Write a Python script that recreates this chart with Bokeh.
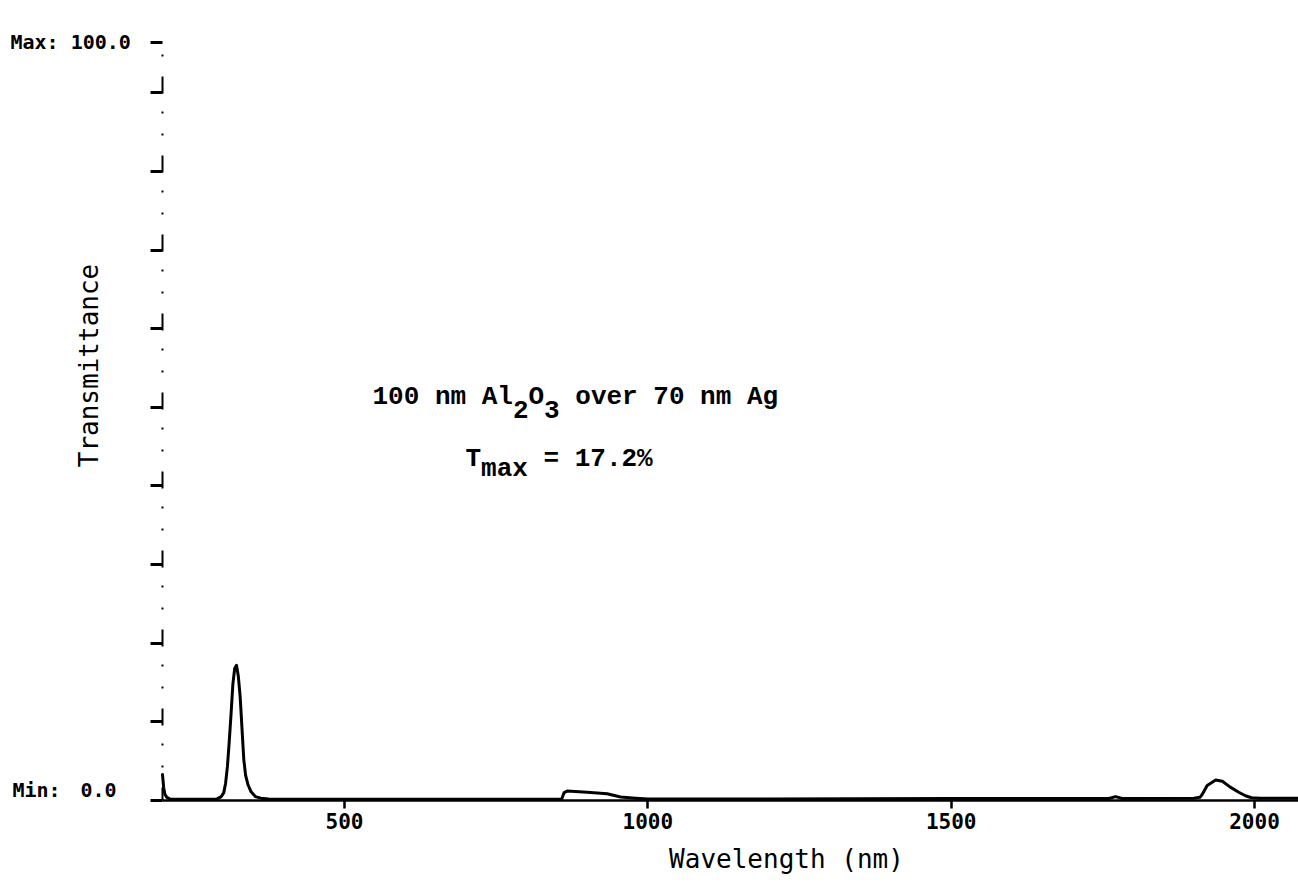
import math
from bokeh.plotting import figure
from bokeh.models import Range1d, FixedTicker, Label
from bokeh.embed import file_html
from bokeh.resources import INLINE

# ---- data ----
wavelength = [200, 202, 204, 207, 212, 230, 260, 290, 297, 301,
              304, 307, 310, 313, 316, 319, 322, 325, 328, 331,
              334, 337, 341, 346, 353, 362, 375, 400, 500, 700,
              858, 862, 867, 900, 933, 955, 980, 1000, 1200, 1500,
              1760, 1771, 1782, 1900, 1910, 1914, 1922, 1936, 1947, 1960,
              1974, 1985, 1995, 2010, 2072.5]
transmittance = [3.3, 1.6, 0.8, 0.4, 0.2, 0.15, 0.15, 0.2, 0.5, 1.0,
                 2.2, 4.3, 7.5, 11.0, 14.8, 16.8, 17.2, 15.8, 13.2, 9.2,
                 5.2, 3.2, 2.0, 1.1, 0.5, 0.3, 0.2, 0.15, 0.15, 0.15,
                 0.2, 1.0, 1.2, 1.05, 0.85, 0.45, 0.3, 0.2, 0.2, 0.25,
                 0.25, 0.5, 0.25, 0.3, 0.4, 0.8, 1.9, 2.6, 2.45, 1.7,
                 1.05, 0.6, 0.35, 0.3, 0.3]
x_ticks = [500, 1000, 1500, 2000]
y_ticks = [0, 10, 20, 30, 40, 50, 60, 70, 80, 90, 96.4]
x_start, x_end = 200, 2072.5
y_start, y_end = 0, 96.4

# ---- layout (pixel positions of the axis box on the canvas) ----
W, H = 1298, 884
AL, AR, AT, AB = 162, 1298, 42, 800


def to_x(px):
    return x_start + (px - AL) * (x_end - x_start) / (AR - AL)


def to_y(py):
    return y_start + (AB - py) * (y_end - y_start) / (AB - AT)


p = figure(width=W, height=H, output_backend="svg", toolbar_location=None,
           x_range=Range1d(to_x(0), to_x(W)), y_range=Range1d(to_y(H), to_y(0)),
           min_border_left=0, min_border_right=0,
           min_border_top=0, min_border_bottom=0)
p.outline_line_color = None
p.grid.visible = False
p.background_fill_color = "white"
p.border_fill_color = "white"

p.line(wavelength, transmittance, line_color="black", line_width=3,
       line_join="round", line_cap="round")

# x axis
xa = p.xaxis[0]
xa.fixed_location = y_start
xa.bounds = (x_start, x_end)
xa.ticker = FixedTicker(ticks=x_ticks)
xa.axis_line_width = 2.5
xa.axis_line_color = "black"
xa.major_tick_line_width = 2.5
xa.major_tick_line_color = "black"
xa.major_tick_in = 0
xa.major_tick_out = 8
xa.minor_tick_line_color = None
xa.major_label_standoff = 4
xa.major_label_text_font = "DejaVu Sans Mono"
xa.major_label_text_font_style = "bold"
xa.major_label_text_font_size = "21px"
xa.major_label_text_color = "black"

# y axis
ya = p.yaxis[0]
ya.fixed_location = x_start
ya.bounds = (y_start, y_end)
ya.ticker = FixedTicker(ticks=y_ticks)
ya.axis_line_width = 2
ya.axis_line_color = "black"
ya.axis_line_dash = "17 20 2 20 2 18"
ya.axis_line_dash_offset = 4
ya.major_tick_line_width = 3
ya.major_tick_line_color = "black"
ya.major_tick_in = 0
ya.major_tick_out = 12
ya.minor_tick_line_color = None
ya.major_label_overrides = {t: "" for t in y_ticks}


def lab(text, px, py, size, font="Liberation Mono", style="bold",
        align="left", baseline="alphabetic", angle=0.0):
    p.add_layout(Label(x=to_x(px), y=to_y(py), text=text,
                       text_font=font, text_font_style=style,
                       text_font_size=f"{size}px", text_color="black",
                       text_align=align, text_baseline=baseline,
                       angle=angle))


# y extreme labels
lab("Max: 100.0", 10, 41, 20, font="DejaVu Sans Mono", baseline="middle")
lab("Min:", 12, 789, 20, font="DejaVu Sans Mono", baseline="middle")
lab("0.0", 80, 789, 20, font="DejaVu Sans Mono", baseline="middle")

# axis titles
lab("Wavelength (nm)", 786, 858, 26, font="DejaVu Sans Mono", style="normal",
    align="center", baseline="middle")
lab("Transmittance", 88, 365, 26, font="DejaVu Sans Mono", style="normal",
    align="center", baseline="middle", angle=math.pi / 2)

# annotation
fs = 26
pitch = 0.6 * fs
x0, b1, sub = 372, 396, 13
lab("100 nm Al", x0, b1, fs)
lab("2", x0 + 9 * pitch, b1 + sub, fs)
lab("O", x0 + 10 * pitch, b1, fs)
lab("3", x0 + 11 * pitch, b1 + sub, fs)
lab("over 70 nm Ag", x0 + 13 * pitch, b1, fs)

x1, b2 = 465, 458
lab("T", x1, b2, fs)
lab("max", x1 + pitch, b2 + 10, fs)
lab("= 17.2%", x1 + 5 * pitch, b2, fs)

open("out.html", "w").write(file_html(p, INLINE))
